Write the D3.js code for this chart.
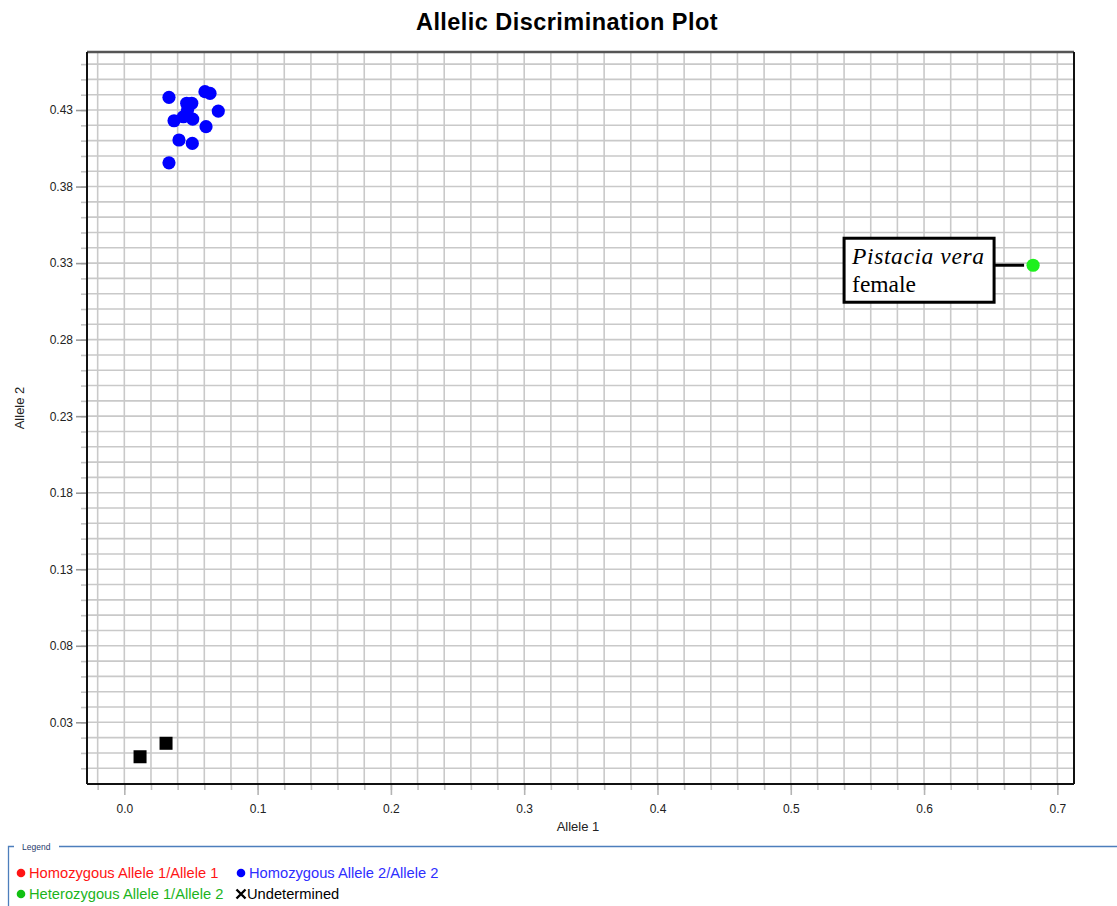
<!DOCTYPE html>
<html>
<head>
<meta charset="utf-8">
<script src="https://cdn.jsdelivr.net/npm/d3@7"></script>
<style>
  html, body { margin: 0; padding: 0; background: #fff; }
  svg { display: block; }
  text { font-family: "Liberation Sans", Arial, sans-serif; }
</style>
</head>
<body>
<svg id="chart" width="1117" height="906"></svg>
<script>
// Genotype calls: Allele 1 (x) vs Allele 2 (y) signal
const homo2X = [0.0335, 0.0468, 0.0506, 0.0605, 0.0643, 0.0705, 0.0373, 0.0443, 0.0513, 0.0613, 0.0410, 0.0510, 0.0335, 0.0474];
const homo2Y = [0.4383, 0.4344, 0.4344, 0.4420, 0.4409, 0.4293, 0.4230, 0.4256, 0.4241, 0.4191, 0.4104, 0.4082, 0.3955, 0.4300];
const heteroX = [0.6818];
const heteroY = [0.3286];
const undetX = [0.0118, 0.0313];
const undetY = [0.0075, 0.0163];

const xMajorTicks = [0.0, 0.1, 0.2, 0.3, 0.4, 0.5, 0.6, 0.7];
const yMajorTicks = [0.03, 0.08, 0.13, 0.18, 0.23, 0.28, 0.33, 0.38, 0.43];
const xMinorTicks = d3.range(-0.02, 0.7001, 0.02);
const yMinorTicks = d3.range(0.0, 0.4601, 0.01);

const legendItems = [
  { label: "Homozygous Allele 1/Allele 1", color: "#ff1414", marker: "dot" },
  { label: "Homozygous Allele 2/Allele 2", color: "#2e2eff", marker: "dot", dotColor: "#0000ff" },
  { label: "Heterozygous Allele 1/Allele 2", color: "#1cb41c", marker: "dot", dotColor: "#12c012" },
  { label: "Undetermined", color: "#000000", marker: "x" }
];

const svg = d3.select("#chart");
const pLeft = 87, pRight = 1074, pTop = 52, pBottom = 784;

const x = d3.scaleLinear().domain([-0.0280, 0.7125]).range([pLeft, pRight]);
const y = d3.scaleLinear().domain([-0.0103, 0.4679]).range([pBottom, pTop]);

// Title
svg.append("text")
  .attr("x", 567).attr("y", 30)
  .attr("text-anchor", "middle")
  .style("font-weight", "bold").style("font-size", "23.5px")
  .style("letter-spacing", "0.45px")
  .text("Allelic Discrimination Plot");

// Grid
const grid = svg.append("g");
grid.selectAll("line.gx").data(xMinorTicks.filter(v => x(v) > pLeft + 1)).enter()
  .append("line")
  .attr("x1", d => x(d)).attr("x2", d => x(d))
  .attr("y1", pTop).attr("y2", pBottom)
  .attr("stroke", "#c9c9c9").attr("stroke-width", 1.6);
grid.selectAll("line.gy").data(yMinorTicks.filter(v => y(v) < pBottom - 1)).enter()
  .append("line")
  .attr("y1", d => y(d)).attr("y2", d => y(d))
  .attr("x1", pLeft).attr("x2", pRight)
  .attr("stroke", "#c9c9c9").attr("stroke-width", 1.6);

// Axes: minor and major ticks
function styleAxis(g, color) {
  g.select(".domain").remove();
  g.selectAll(".tick line").attr("stroke", color).attr("stroke-width", 1.6);
  g.selectAll(".tick text")
    .style("font-family", "'Liberation Sans', Arial, sans-serif")
    .style("font-size", "12px").attr("fill", "#222");
}
svg.append("g").attr("transform", `translate(0,${pBottom})`)
  .call(d3.axisBottom(x).tickValues(xMinorTicks).tickSize(6).tickFormat(""))
  .call(g => styleAxis(g, "#c4c4c4"));
svg.append("g").attr("transform", `translate(0,${pBottom})`)
  .call(d3.axisBottom(x).tickValues(xMajorTicks).tickSize(11).tickPadding(9).tickFormat(d3.format(".1f")))
  .call(g => styleAxis(g, "#b4b4b4"));
svg.append("g").attr("transform", `translate(${pLeft},0)`)
  .call(d3.axisLeft(y).tickValues(yMinorTicks).tickSize(6).tickFormat(""))
  .call(g => styleAxis(g, "#c4c4c4"));
svg.append("g").attr("transform", `translate(${pLeft},0)`)
  .call(d3.axisLeft(y).tickValues(yMajorTicks).tickSize(11).tickPadding(3).tickFormat(d3.format(".2f")))
  .call(g => styleAxis(g, "#999"));

// Frame
svg.append("line").attr("x1", pLeft).attr("x2", pRight).attr("y1", pTop).attr("y2", pTop)
  .attr("stroke", "#555").attr("stroke-width", 2.5);
svg.append("line").attr("x1", pRight).attr("x2", pRight).attr("y1", pTop).attr("y2", pBottom)
  .attr("stroke", "#111").attr("stroke-width", 2);
svg.append("line").attr("x1", pLeft).attr("x2", pLeft).attr("y1", pTop).attr("y2", pBottom)
  .attr("stroke", "#111").attr("stroke-width", 2);
svg.append("line").attr("x1", pLeft).attr("x2", pRight).attr("y1", pBottom).attr("y2", pBottom)
  .attr("stroke", "#111").attr("stroke-width", 2);

// Axis titles
svg.append("text").attr("x", 578).attr("y", 831)
  .attr("text-anchor", "middle").style("font-size", "13px").attr("fill", "#222")
  .text("Allele 1");
svg.append("text")
  .attr("transform", "translate(24,408) rotate(-90)")
  .attr("text-anchor", "middle").style("font-size", "13px").attr("fill", "#222")
  .text("Allele 2");

// Points
const pts = svg.append("g");
pts.selectAll("circle.h2").data(d3.range(homo2X.length)).enter()
  .append("circle")
  .attr("cx", i => x(homo2X[i])).attr("cy", i => y(homo2Y[i]))
  .attr("r", 6.6).attr("fill", "#0000ff");
pts.selectAll("rect.u").data(d3.range(undetX.length)).enter()
  .append("rect")
  .attr("x", i => x(undetX[i]) - 6.5).attr("y", i => y(undetY[i]) - 6.5)
  .attr("width", 13).attr("height", 13).attr("fill", "#000");

// Heterozygous sample with callout
const hx = x(heteroX[0]), hy = y(heteroY[0]);
const boxRight = hx - 39, boxW = 150, boxH = 64;
const boxLeft = boxRight - boxW, boxTop = hy - 27;
svg.append("line")
  .attr("x1", boxRight).attr("x2", hx - 9)
  .attr("y1", hy).attr("y2", hy)
  .attr("stroke", "#000").attr("stroke-width", 3);
svg.append("rect")
  .attr("x", boxLeft).attr("y", boxTop).attr("width", boxW).attr("height", boxH)
  .attr("fill", "#fff").attr("stroke", "#000").attr("stroke-width", 3);
const callout = svg.append("text")
  .attr("x", boxLeft + 8).attr("y", boxTop + 26)
  .style("font-family", "'Liberation Serif', 'Times New Roman', serif")
  .style("font-size", "23.5px").attr("fill", "#000");
callout.append("tspan").style("font-style", "italic").style("letter-spacing", "0.6px").text("Pistacia vera");
callout.append("tspan").attr("x", boxLeft + 8).attr("dy", 28).text("female");
pts.selectAll("circle.het").data(d3.range(heteroX.length)).enter()
  .append("circle")
  .attr("cx", i => x(heteroX[i])).attr("cy", i => y(heteroY[i]))
  .attr("r", 6.6).attr("fill", "#1ef01e");

// Legend panel
const lg = svg.append("g");
lg.append("path")
  .attr("d", "M14,846.5 H8.5 V906")
  .attr("fill", "none").attr("stroke", "#4d7ebc").attr("stroke-width", 1.3);
lg.append("line").attr("x1", 59).attr("x2", 1117).attr("y1", 846.5).attr("y2", 846.5)
  .attr("stroke", "#4d7ebc").attr("stroke-width", 1.3);
lg.append("text").attr("x", 22).attr("y", 849.5)
  .style("font-size", "8.5px").attr("fill", "#1f3a6b").text("Legend");

const cols = [21, 241], rows = [872.5, 893.5];
legendItems.forEach((d, i) => {
  const cx = cols[i % 2], cy = rows[Math.floor(i / 2)];
  const g = lg.append("g");
  if (d.marker === "dot") {
    g.append("circle").attr("cx", cx).attr("cy", cy + 0.5).attr("r", 4.3)
      .attr("fill", d.dotColor || d.color);
  } else {
    g.append("path")
      .attr("d", `M${cx - 4.5},${cy - 4} L${cx + 4.5},${cy + 5} M${cx + 4.5},${cy - 4} L${cx - 4.5},${cy + 5}`)
      .attr("stroke", "#000").attr("stroke-width", 2.4);
  }
  g.append("text").attr("x", cx + (d.marker === "dot" ? 8 : 6)).attr("y", cy + 5)
    .style("font-size", "14.7px").attr("fill", d.color).text(d.label);
});
</script>
</body>
</html>
